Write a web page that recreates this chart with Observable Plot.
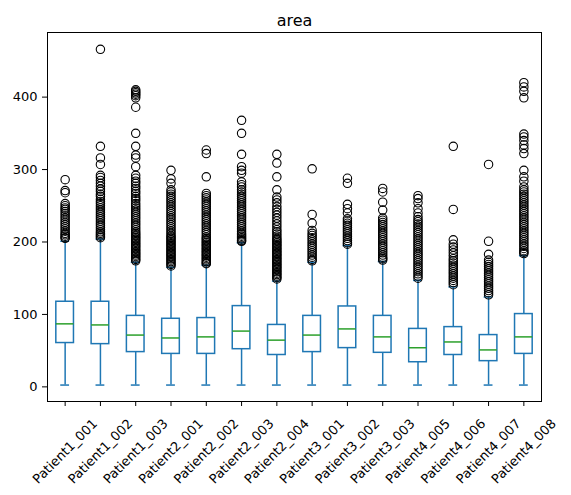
<!DOCTYPE html>
<html><head><meta charset="utf-8">
<script src="https://cdn.jsdelivr.net/npm/d3@7"></script>
<script src="https://cdn.jsdelivr.net/npm/@observablehq/plot@0.6"></script>
<style>body{margin:0;background:#fff}</style>
</head><body><div id="chart"></div>
<script>
const title = "area";
const patients = ["Patient1_001","Patient1_002","Patient1_003","Patient2_001","Patient2_002","Patient2_003","Patient2_004","Patient3_001","Patient3_002","Patient3_003","Patient4_005","Patient4_006","Patient4_007","Patient4_008"];
const q1 =          [60.5, 59,    48,  45.5, 45.5, 52,   44,   48,  53.5, 47,  34,  44,   35.5, 45.5];
const median =      [87,   85.5,  71.5,67.5, 69,   77,   64.5, 71.5,80,   69,  54,  62,   51,   69];
const q3 =          [117.5,117.5, 98,  94,   95,   111.5,85.5, 98,  111,  98,  80,  82.5, 71.5, 100.5];
const whiskerLow =  [2.5,  2.5,   2.5, 2.5,  2.5,  2.5,  2.5,  2.5, 2.5,  2.5, 2.5, 2.5,  2.5,  2.5];
const whiskerHigh = [201,  204,   172, 165,  168,  199,  146,  172, 195,  173, 147, 138,  124,  181];
const yTicks = [0, 100, 200, 300, 400];
const outliers = [
  [286,271,268,253,250,247,245,242,239,236,233,230,227,224,221,218,215,212,210,208,206,205],
  [466,332,316,307,292,289,285,281,277,273,270,266,263,259,256,253,250,247,244,241,238,235,232,229,226,223,220,217,214,212,210,208,206],
  [410,408,406,404,402,399,386,350,332,320,316,304,292,288,284,281,277,274,270,267,263,260,257,253,250,247,244,241,238,235,232,229,226,223,220,217,214,212,210,208,206,204,202,200,198,196,194,192,190,188,186,184,182,180,178,176,174],
  [299,287,281,272,269,266,263,260,257,254,251,248,245,242,239,236,233,230,227,224,221,218,215,212,209,207,205,203,201,199,197,195,193,191,189,187,185,183,181,179,177,175,173,171,169,167],
  [327,322,290,267,264,261,258,255,252,249,246,243,240,237,234,231,228,225,222,219,216,213,210,207,205,203,201,199,197,195,193,191,189,187,185,183,181,179,177,175,173,171,170],
  [368,350,321,304,299,295,283,279,276,272,269,266,263,260,257,254,251,248,245,242,239,236,233,230,227,224,221,218,215,212,210,208,206,204,202,201],
  [321,309,290,272,262,258,254,249,245,241,237,233,229,225,221,217,214,211,208,205,203,201,199,197,195,193,191,189,187,185,183,181,179,177,175,173,171,169,167,165,163,161,159,157,155,153,151,149],
  [301,238,226,216,212,209,206,203,200,197,194,191,188,185,182,179,176,174],
  [288,281,252,246,240,232,229,226,223,220,217,214,211,208,205,202,199,197],
  [274,269,255,244,233,230,227,224,221,218,215,212,209,206,203,200,197,194,191,188,185,182,179,177,175],
  [264,260,254,246,240,235,231,228,225,222,219,216,213,210,207,204,201,198,195,192,189,186,183,180,177,174,171,168,165,162,159,156,153,150],
  [332,245,203,197,193,189,185,181,177,174,171,168,165,162,159,156,153,150,147,144,141],
  [307,201,183,175,172,169,166,163,160,157,154,151,148,145,142,139,136,133,130,127],
  [420,414,408,399,349,345,340,334,329,322,299,290,284,276,272,269,266,263,260,257,254,251,248,245,242,239,236,233,230,227,224,221,218,215,212,209,206,203,200,197,194,191,188,186,184]
];

const C0 = "#1f77b4", C2 = "#2ca02c";
const stats = patients.map((p, i) => ({i: i + 1, name: p, q1: q1[i], med: median[i], q3: q3[i], lo: whiskerLow[i], hi: whiskerHigh[i]}));
const fliers = outliers.flatMap((arr, i) => arr.map(v => ({i: i + 1, v})));

const chart = Plot.plot({
  width: 571, height: 495,
  marginTop: 32, marginBottom: 94, marginLeft: 47, marginRight: 30,
  style: {fontFamily: "DejaVu Sans", fontSize: "13px", background: "#fff", color: "#000"},
  x: {domain: [0.5, 14.5], axis: null},
  y: {domain: [-20.2, 489.2], axis: null},
  marks: [
    Plot.axisY({ticks: yTicks, tickSize: 5, tickPadding: 5, label: null, fontSize: 13}),
    Plot.axisX({ticks: stats.map(d => d.i), tickSize: 5, tickFormat: () => "", label: null}),
    Plot.ruleX(stats, {x: "i", y1: "q3", y2: "hi", stroke: C0, strokeWidth: 1.5}),
    Plot.ruleX(stats, {x: "i", y1: "lo", y2: "q1", stroke: C0, strokeWidth: 1.5}),
    Plot.ruleY(stats, {y: "hi", x1: d => d.i - 0.125, x2: d => d.i + 0.125, stroke: C0, strokeWidth: 1.5}),
    Plot.ruleY(stats, {y: "lo", x1: d => d.i - 0.125, x2: d => d.i + 0.125, stroke: C0, strokeWidth: 1.5}),
    Plot.rect(stats, {x1: d => d.i - 0.25, x2: d => d.i + 0.25, y1: "q1", y2: "q3", fill: "none", stroke: C0, strokeWidth: 1.5}),
    Plot.ruleY(stats, {y: "med", x1: d => d.i - 0.25, x2: d => d.i + 0.25, stroke: C2, strokeWidth: 1.5}),
    Plot.dot(fliers, {x: "i", y: "v", r: 4.2, stroke: "black", fill: "none", strokeWidth: 1.1}),
    Plot.frame({stroke: "black", strokeWidth: 1}),
    Plot.text(stats, {x: "i", text: "name", frameAnchor: "bottom", dy: 50, rotate: -45, textAnchor: "middle", lineAnchor: "middle", fontSize: 13, fill: "black"}),
    Plot.text([title], {frameAnchor: "top", dy: -7, lineAnchor: "bottom", fontSize: 16, fill: "black"})
  ]
});
document.getElementById("chart").appendChild(chart);
</script>
</body></html>
